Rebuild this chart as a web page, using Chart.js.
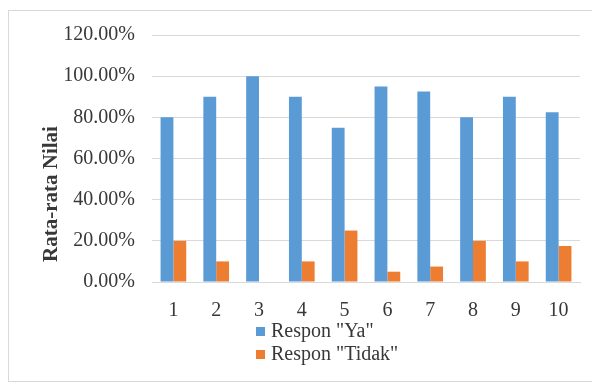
<!DOCTYPE html>
<html>
<head>
<meta charset="utf-8">
<script src="https://cdn.jsdelivr.net/npm/chart.js@4"></script>
<style>
  html, body { margin: 0; padding: 0; background: #fff; }
  #wrap { width: 592px; height: 383px; }
</style>
</head>
<body>
<div id="wrap"><canvas id="chart" width="592" height="383"></canvas></div>
<script>
// chart data
const categories = ['1', '2', '3', '4', '5', '6', '7', '8', '9', '10'];
const seriesNames = ['Respon "Ya"', 'Respon "Tidak"'];
const yaValues = [80, 90, 100, 90, 75, 95, 92.5, 80, 90, 82.5];
const tidakValues = [20, 10, 0, 10, 25, 5, 7.5, 20, 10, 17.5];
const yTicks = [0, 20, 40, 60, 80, 100, 120];
const yTitle = 'Rata-rata Nilai';

const colors = ['#5B9BD5', '#ED7D31'];
const textColor = '#383838';
const fontFamily = '"Liberation Serif", "Times New Roman", serif';

// frame around the whole chart + custom legend and axis title
const extras = {
  id: 'extras',
  beforeDraw(chart) {
    const ctx = chart.ctx;
    ctx.save();
    ctx.fillStyle = '#fff';
    ctx.fillRect(0, 0, chart.width, chart.height);
    ctx.strokeStyle = '#d9d9d9';
    ctx.lineWidth = 1;
    ctx.strokeRect(8.5, 10.5, chart.width + 10, chart.height - 12);
    ctx.restore();
  },
  afterDraw(chart) {
    const ctx = chart.ctx;
    ctx.save();
    // y axis title
    ctx.translate(52, 194);
    ctx.rotate(-Math.PI / 2);
    ctx.font = 'bold 21px ' + fontFamily;
    ctx.fillStyle = textColor;
    ctx.textAlign = 'center';
    ctx.textBaseline = 'middle';
    ctx.fillText(yTitle, 0, 0);
    ctx.restore();

    // legend, one item per line
    ctx.save();
    ctx.font = '20px ' + fontFamily;
    ctx.textBaseline = 'middle';
    chart.data.datasets.forEach((ds, i) => {
      const y = 331 + i * 23;
      ctx.fillStyle = ds.backgroundColor;
      ctx.fillRect(256, y - 4, 9, 9);
      ctx.fillStyle = textColor;
      ctx.fillText(ds.label, 271, y + 1);
    });
    ctx.restore();
  }
};

const ctx = document.getElementById('chart').getContext('2d');
new Chart(ctx, {
  type: 'bar',
  data: {
    labels: categories,
    datasets: [
      { label: seriesNames[0], data: yaValues, backgroundColor: colors[0] },
      { label: seriesNames[1], data: tidakValues, backgroundColor: colors[1] }
    ]
  },
  options: {
    responsive: false,
    animation: false,
    devicePixelRatio: 1,
    categoryPercentage: 0.6,
    barPercentage: 1.0,
    layout: { padding: { left: 10, right: 12, top: 35, bottom: 61 } },
    plugins: {
      legend: { display: false },
      tooltip: { enabled: false }
    },
    scales: {
      x: {
        grid: { display: false, drawTicks: false },
        border: { display: true, color: '#d9d9d9' },
        ticks: {
          color: textColor,
          padding: 17,
          font: { family: fontFamily, size: 20 }
        },
        afterFit(scale) { scale.height = 40; }
      },
      y: {
        min: 0,
        max: 120,
        afterBuildTicks(scale) {
          scale.ticks = yTicks.map(v => ({ value: v }));
        },
        grid: { color: '#d9d9d9', drawTicks: false },
        border: { display: false },
        ticks: {
          color: textColor,
          padding: 17,
          font: { family: fontFamily, size: 20 },
          callback: v => v.toFixed(2) + '%'
        },
        afterFit(scale) { scale.width = 142; }
      }
    }
  },
  plugins: [extras]
});
</script>
</body>
</html>
